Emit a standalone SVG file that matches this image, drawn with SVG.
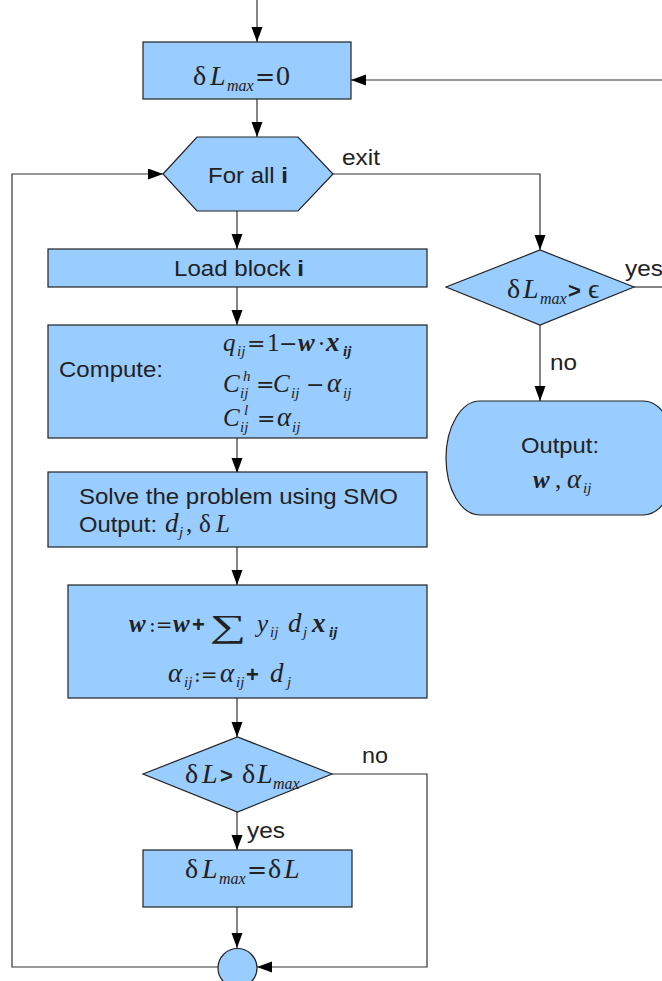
<svg xmlns="http://www.w3.org/2000/svg" width="662" height="981" viewBox="0 0 662 981">
<defs>
<marker id="ah" markerUnits="userSpaceOnUse" markerWidth="16" markerHeight="12" refX="15" refY="5.5" orient="auto">
<path d="M0,0 L15,5.5 L0,11 z" fill="#000"/>
</marker>
<style>
.box{fill:#99ccff;stroke:#222;stroke-width:1.2}
.ln{fill:none;stroke:#333;stroke-width:1.2}
.ar{fill:none;stroke:#333;stroke-width:1.2;marker-end:url(#ah)}
.t{font-family:"Liberation Sans",Arial,sans-serif;font-size:22px;fill:#222}
.m{font-family:"Liberation Serif","Times New Roman",serif;font-size:25px;fill:#222}
.g{font-size:28px}
.i{font-style:italic}
.b{font-weight:bold}
.a{font-size:27px;font-style:italic}
.s{font-size:16px;font-style:italic}
.u{font-size:15px;font-style:italic}
.op{font-family:"DejaVu Serif",serif;font-size:22px;font-style:normal}
.gt{font-family:"Liberation Sans",Arial,sans-serif;font-size:22px;font-weight:bold;font-style:normal}
</style>
</defs>
<rect width="662" height="981" fill="#fff"/>
<g id="connectors">
<path class="ar" d="M257,0 V42"/>
<path class="ar" d="M662,80 H351"/>
<path class="ar" d="M257,99 V137"/>
<path class="ar" d="M237,211 V249"/>
<path class="ar" d="M237,287 V325"/>
<path class="ar" d="M237,438 V473"/>
<path class="ar" d="M237,547 V585"/>
<path class="ar" d="M237,698 V737"/>
<path class="ar" d="M237,812 V850"/>
<path class="ar" d="M237,907 V948"/>
<path class="ar" d="M332,774 H427 V967 H257"/>
<path class="ar" d="M218,967 H12 V174 H163"/>
<path class="ar" d="M333,174 H540 V250"/>
<path class="ln" d="M634,287 H662"/>
<path class="ar" d="M540,325 V401"/>
<text class="t" x="342" y="165" textLength="38" lengthAdjust="spacingAndGlyphs">exit</text>
<text class="t" x="362" y="763" textLength="26" lengthAdjust="spacingAndGlyphs">no</text>
<text class="t" x="247" y="838" textLength="38" lengthAdjust="spacingAndGlyphs">yes</text>
<text class="t" x="625" y="276" textLength="38" lengthAdjust="spacingAndGlyphs">yes</text>
<text class="t" x="550" y="370" textLength="27" lengthAdjust="spacingAndGlyphs">no</text>
</g>
<g id="init">
<rect class="box" x="143" y="42" width="208" height="57"/>
<text class="m g" y="85"><tspan x="193">δ</tspan><tspan x="210" class="i">L</tspan><tspan x="227" dy="6" class="s">max</tspan><tspan x="255" dy="-6" class="op" style="font-size:24px">=</tspan><tspan x="276">0</tspan></text>
</g>
<g id="forall">
<polygon class="box" points="163,174 197,137 298,137 333,174 298,211 197,211"/>
<text class="t" x="208" y="183" textLength="80" lengthAdjust="spacingAndGlyphs">For all <tspan class="b">i</tspan></text>
</g>
<g id="load">
<rect class="box" x="48" y="249" width="379" height="38"/>
<text class="t" x="174" y="276" textLength="130" lengthAdjust="spacingAndGlyphs">Load block <tspan class="b">i</tspan></text>
</g>
<g id="compute">
<rect class="box" x="48" y="325" width="379" height="113"/>
<text class="t" x="59" y="377" textLength="104" lengthAdjust="spacingAndGlyphs">Compute:</text>
<text class="m" y="351"><tspan x="223" class="i">q</tspan><tspan x="237" dy="5" class="u">ij</tspan><tspan x="247" dy="-5" class="op">=</tspan><tspan x="267">1</tspan><tspan x="279" class="op">−</tspan><tspan x="298" class="i b">w</tspan><tspan x="318" class="op">·</tspan><tspan x="326" class="i b" style="font-size:27px">x</tspan><tspan x="343" dy="5" class="u b">ij</tspan></text>
<text class="m" y="392"><tspan x="223" class="i">C</tspan><tspan x="243" dy="-11" class="u">h</tspan><tspan x="240" dy="17" class="u">ij</tspan><tspan x="256" dy="-6" class="op">=</tspan><tspan x="273" class="i">C</tspan><tspan x="291" dy="6" class="u">ij</tspan><tspan x="306" dy="-6" class="op">−</tspan><tspan x="327" class="a">α</tspan><tspan x="343" dy="6" class="u">ij</tspan></text>
<text class="m" y="426"><tspan x="223" class="i">C</tspan><tspan x="244" dy="-11" class="u">l</tspan><tspan x="240" dy="17" class="u">ij</tspan><tspan x="257" dy="-6" class="op">=</tspan><tspan x="277" class="a">α</tspan><tspan x="292" dy="6" class="u">ij</tspan></text>
</g>
<g id="solve">
<rect class="box" x="48" y="472" width="379" height="75"/>
<text class="t" x="79" y="504" textLength="319" lengthAdjust="spacingAndGlyphs">Solve the problem using SMO</text>
<text class="t" x="79" y="532" textLength="78" lengthAdjust="spacingAndGlyphs">Output:</text>
<text class="m" y="532"><tspan x="165" class="i" style="font-size:27px">d</tspan><tspan x="179" dy="5" class="u">j</tspan><tspan x="186" dy="-5">,</tspan><tspan x="199">δ</tspan><tspan x="216" class="i">L</tspan></text>
</g>
<g id="update">
<rect class="box" x="68" y="585" width="359" height="113"/>
<text class="m" y="632"><tspan x="129" class="i b">w</tspan><tspan x="149" class="op" style="font-size:20px">:=</tspan><tspan x="173" class="i b">w</tspan><tspan x="192" class="gt">+</tspan><tspan x="257" class="i">y</tspan><tspan x="270" dy="5" class="u">ij</tspan><tspan x="288" dy="-5" class="i" style="font-size:27px">d</tspan><tspan x="303" dy="5" class="u">j</tspan><tspan x="312" dy="-5" class="i b" style="font-size:27px">x</tspan><tspan x="329" dy="5" class="u b">ij</tspan></text>
<text class="m" transform="translate(210,637) scale(1.6,1)" style="font-size:32px">∑</text>
<text class="m" y="682"><tspan x="168" class="a">α</tspan><tspan x="184" dy="5" class="u">ij</tspan><tspan x="194" dy="-5" class="op" style="font-size:20px">:=</tspan><tspan x="220" class="a">α</tspan><tspan x="236" dy="5" class="u">ij</tspan><tspan x="246" dy="-5" class="gt">+</tspan><tspan x="270" class="i" style="font-size:27px">d</tspan><tspan x="287" dy="5" class="u">j</tspan></text>
</g>
<g id="compare">
<polygon class="box" points="143,774 237.5,737 332,774 237.5,812"/>
<text class="m g" y="783"><tspan x="185">δ</tspan><tspan x="202" class="i">L</tspan><tspan x="220" class="gt">&gt;</tspan><tspan x="242">δ</tspan><tspan x="257" class="i">L</tspan><tspan x="273" dy="6" class="s">max</tspan></text>
</g>
<g id="setmax">
<rect class="box" x="143" y="850" width="209" height="57"/>
<text class="m g" y="878"><tspan x="185">δ</tspan><tspan x="202" class="i">L</tspan><tspan x="219" dy="6" class="s">max</tspan><tspan x="247" dy="-6" class="op" style="font-size:24px">=</tspan><tspan x="268">δ</tspan><tspan x="284" class="i">L</tspan></text>
</g>
<g id="join">
<circle class="box" cx="237.5" cy="968" r="19.5"/>
</g>
<g id="converge">
<polygon class="box" points="446,287 540,250 634,287 540,325"/>
<text class="m g" y="298"><tspan x="507">δ</tspan><tspan x="523" class="i">L</tspan><tspan x="540" dy="6" class="s">max</tspan><tspan x="568" dy="-6" class="gt">&gt;</tspan><tspan x="588">ϵ</tspan></text>
</g>
<g id="output">
<path class="box" d="M480,401 H643 A34,57 0 0 1 643,515 H480 A34,57 0 0 1 480,401 Z"/>
<text class="t" x="521" y="453" textLength="78" lengthAdjust="spacingAndGlyphs">Output:</text>
<text class="m" y="488"><tspan x="533" class="i b">w</tspan><tspan x="555">,</tspan><tspan x="567" class="a">α</tspan><tspan x="583" dy="5" class="u">ij</tspan></text>
</g>
</svg>
